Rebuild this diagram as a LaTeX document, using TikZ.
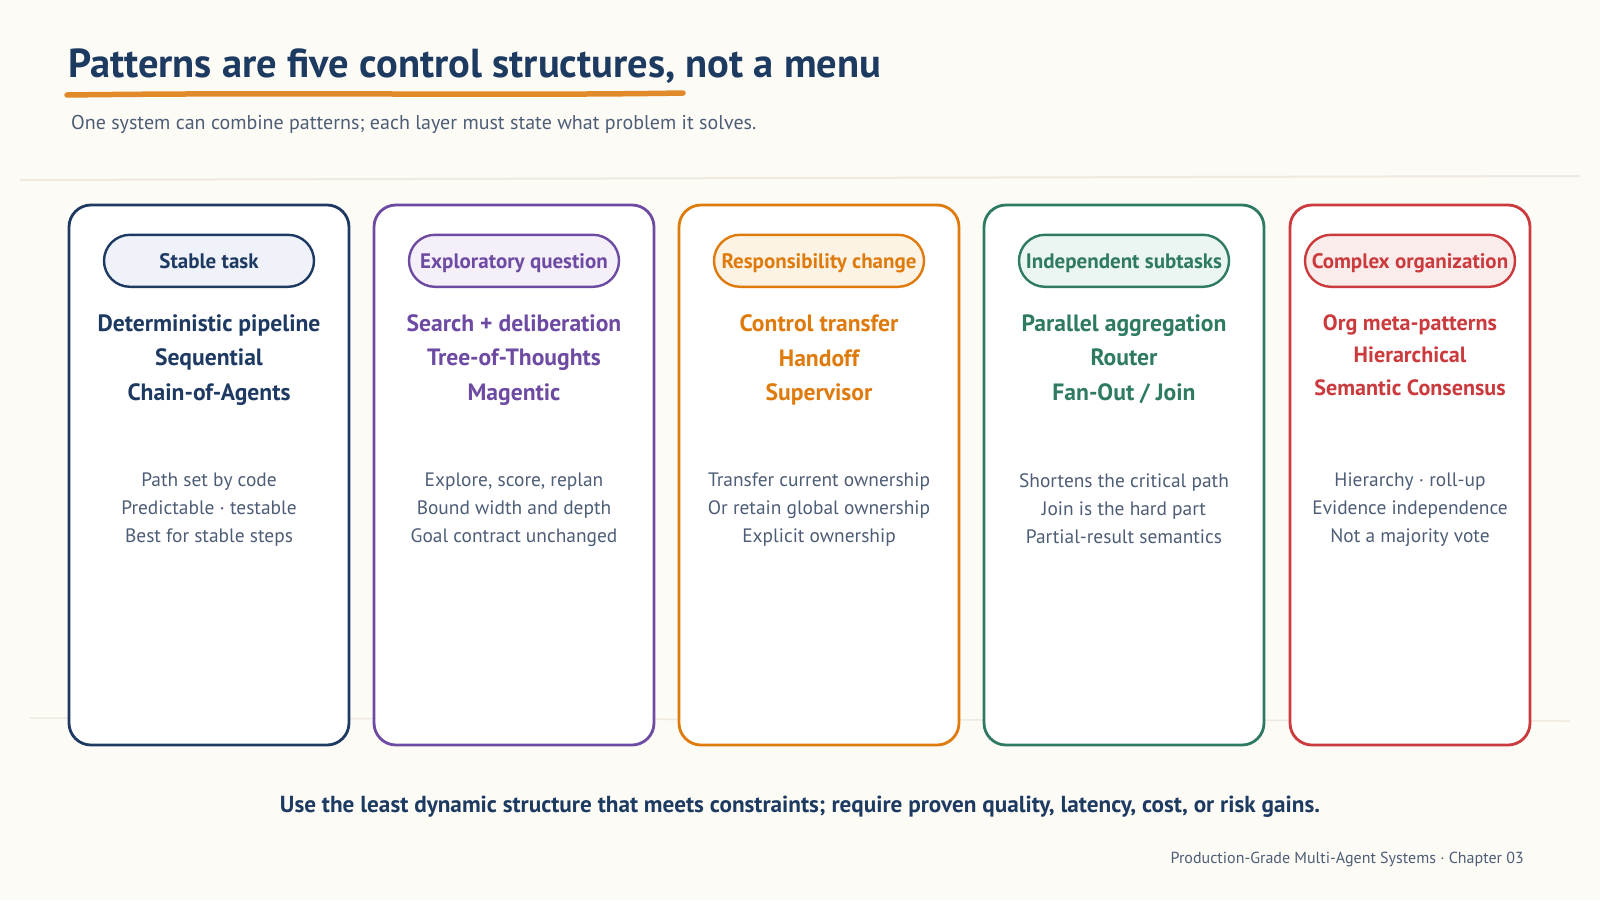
\documentclass[tikz,border=0pt]{standalone}
\usepackage{fontspec}
\setmainfont{PT Sans}
\usetikzlibrary{positioning}
\usepackage{xcolor}
\definecolor{bgcream}{HTML}{FDFBF6}
\definecolor{rulegray}{HTML}{EFE9DF}
\definecolor{inkblue}{HTML}{1D3A61}
\definecolor{slate}{HTML}{4E5D76}
\definecolor{underlineorange}{HTML}{E08A2A}
\definecolor{cnavy}{HTML}{1E3A62}
\definecolor{cpurple}{HTML}{6E4BA3}
\definecolor{corange}{HTML}{DF7B0C}
\definecolor{cgreen}{HTML}{2E7A62}
\definecolor{cred}{HTML}{CB3A3D}
\definecolor{tnavy}{HTML}{EFF3F9}
\definecolor{tpurple}{HTML}{F4EFF9}
\definecolor{torange}{HTML}{FDF3E5}
\definecolor{tgreen}{HTML}{EBF5F1}
\definecolor{tred}{HTML}{FBECEC}
\tikzstyle{card}     = [rectangle, rounded corners=22pt, line width=2.8pt, fill=white,
                        minimum width=280pt, minimum height=540pt]
\tikzstyle{pill}     = [rectangle, rounded corners=26pt, line width=2.4pt,
                        minimum width=210pt, minimum height=52pt, inner sep=0pt,
                        text height=15pt, text depth=0pt,
                        font=\bfseries\fontsize{21}{24}\selectfont]
\tikzstyle{mainlist} = [align=center, inner sep=0pt, font=\bfseries\fontsize{23.6}{34.5}\selectfont]
\tikzstyle{notes}    = [align=center, inner sep=0pt, text=slate, font=\fontsize{19.4}{28}\selectfont]

\begin{document}
\begin{tikzpicture}[x=1pt, y=-1pt]

  \fill[bgcream] (0,0) rectangle (1600,900);
  \useasboundingbox (0,0) rectangle (1600,900);

  % --- Heading ---
  \node (title) [anchor=west, inner sep=0pt, text=inkblue,
                 font=\bfseries\fontsize{40.5}{46}\selectfont]
                 at (68,66) {Patterns are five control structures, not a menu};
  \draw[underlineorange, line width=5.5pt, line cap=round] (67,95) .. controls (300,92) and (500,96) .. (683,93);
  \node (subtitle) [anchor=west, inner sep=0pt, text=slate, font=\fontsize{20}{24}\selectfont]
                 at (71,124) {One system can combine patterns; each layer must state what problem it solves.};

  \draw[rulegray, line width=2pt] (20,180) -- (1580,176);
  \draw[rulegray, line width=1.5pt] (30,718) -- (1570,721);

  % --- Stable task ---
  \node (card1) [card, draw=cnavy] at (209,475) {};
  \node (pill1) [pill, draw=cnavy, fill=tnavy, text=cnavy, below=30pt of card1.north] {Stable task};
  \node (main1) [mainlist, text=cnavy] at (209,360)
                {Deterministic pipeline\\Sequential\\Chain-of-Agents};
  \node (notes1) [notes] at (209,510)
                {Path set by code\\Predictable · testable\\Best for stable steps};

  % --- Exploratory question ---
  \node (card2) [card, draw=cpurple] at (514,475) {};
  \node (pill2) [pill, draw=cpurple, fill=tpurple, text=cpurple, below=30pt of card2.north] {Exploratory question};
  \node (main2) [mainlist, text=cpurple] at (514,360)
                {Search + deliberation\\Tree-of-Thoughts\\Magentic};
  \node (notes2) [notes] at (514,510)
                {Explore, score, replan\\Bound width and depth\\Goal contract unchanged};

  % --- Responsibility change ---
  \node (card3) [card, draw=corange] at (819,475) {};
  \node (pill3) [pill, draw=corange, fill=torange, text=corange, below=30pt of card3.north] {Responsibility change};
  \node (main3) [mainlist, text=corange] at (819,360)
                {Control transfer\\Handoff\\Supervisor};
  \node (notes3) [notes] at (819,510)
                {Transfer current ownership\\Or retain global ownership\\Explicit ownership};

  % --- Independent subtasks ---
  \node (card4) [card, draw=cgreen] at (1124,475) {};
  \node (pill4) [pill, draw=cgreen, fill=tgreen, text=cgreen, below=30pt of card4.north] {Independent subtasks};
  \node (main4) [mainlist, text=cgreen] at (1124,359)
                {Parallel aggregation\\Router\\Fan-Out / Join};
  \node (notes4) [notes] at (1124,509)
                {Shortens the critical path\\Join is the hard part\\Partial-result semantics};

  % --- Complex organization ---
  \node (card5) [card, draw=cred, minimum width=240pt] at (1410,475) {};
  \node (pill5) [pill, draw=cred, fill=tred, text=cred, below=30pt of card5.north] {Complex organization};
  \node (main5) [mainlist, text=cred, font=\bfseries\fontsize{22.1}{32.5}\selectfont] at (1410,355)
                {Org meta-patterns\\Hierarchical\\Semantic Consensus};
  \node (notes5) [notes] at (1410,510)
                {Hierarchy · roll-up\\Evidence independence\\Not a majority vote};

  % --- Footer ---
  \node (takeaway) [inner sep=0pt, text=inkblue, font=\bfseries\fontsize{23.2}{28}\selectfont] at (800,807)
                {Use the least dynamic structure that meets constraints; require proven quality, latency, cost, or risk gains.};
  \node (credit) [anchor=east, inner sep=0pt, text=slate, font=\fontsize{16}{19}\selectfont] at (1524,859)
                {Production-Grade Multi-Agent Systems · Chapter 03};

\end{tikzpicture}
\end{document}
